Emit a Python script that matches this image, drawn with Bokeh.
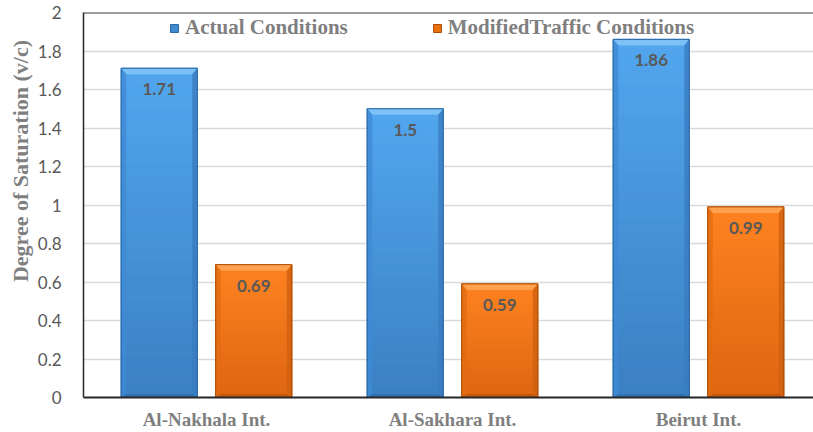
import numpy as np
from bokeh.plotting import figure
from bokeh.models import (ColumnDataSource, FixedTicker, Legend, LegendItem,
                          Span, Range1d)
from bokeh.core.properties import value
from bokeh.embed import file_html
from bokeh.resources import INLINE

# ---------------- data ----------------
categories = ["Al-Nakhala Int.", "Al-Sakhara Int.", "Beirut Int."]
actual = [1.71, 1.50, 1.86]
modified = [0.69, 0.59, 0.99]
series_names = ["Actual Conditions", "ModifiedTraffic Conditions"]
y_ticks = [0, 0.2, 0.4, 0.6, 0.8, 1.0, 1.2, 1.4, 1.6, 1.8, 2.0]
y_tick_labels = ["0", "0.2", "0.4", "0.6", "0.8", "1", "1.2", "1.4", "1.6", "1.8", "2"]
value_labels_actual = ["1.71", "1.5", "1.86"]
value_labels_modified = ["0.69", "0.59", "0.99"]
y_title = "Degree of Saturation (v/c)"

# ---------------- layout ----------------
W, H = 813, 432
LEFT, TOP, BOTTOM = 83, 12, 35
frame_w = W - LEFT
cat_px = 246.0
x_end = frame_w / cat_px

p = figure(width=W, height=H, output_backend="svg", toolbar_location=None,
           x_range=Range1d(0, x_end), y_range=Range1d(0, 2),
           min_border_left=LEFT, min_border_right=0, min_border_top=TOP,
           min_border_bottom=BOTTOM)
p.outline_line_color = None
p.background_fill_color = "white"
p.border_fill_color = "white"

# grid
p.xgrid.grid_line_color = None
p.ygrid.grid_line_color = "#d9d9d9"
p.ygrid.grid_line_width = 1.5
p.ygrid.ticker = FixedTicker(ticks=y_ticks)

# axes
p.yaxis.ticker = FixedTicker(ticks=y_ticks)
p.yaxis.major_label_overrides = {t: l for t, l in zip(y_ticks, y_tick_labels)}
p.yaxis.major_label_text_font = "Lato"
p.yaxis.major_label_text_font_size = "17px"
p.yaxis.major_label_text_color = "#595959"
p.yaxis.major_label_standoff = 16
p.yaxis.major_tick_line_color = None
p.yaxis.minor_tick_line_color = None
p.yaxis.axis_line_color = "#262626"
p.yaxis.axis_line_width = 1.5
# shift the (centred) axis title upwards using non-breaking padding at its start
p.yaxis.axis_label = "\u00a0" * 16 + y_title
p.yaxis.axis_label_text_font = "Liberation Serif"
p.yaxis.axis_label_text_font_style = "bold"
p.yaxis.axis_label_text_font_size = "22px"
p.yaxis.axis_label_text_color = "#7f7f7f"
p.yaxis.axis_label_standoff = 2

xt = [i + 0.5 for i in range(len(categories))]
p.xaxis.ticker = FixedTicker(ticks=xt)
p.xaxis.major_label_overrides = {t: c for t, c in zip(xt, categories)}
p.xaxis.major_label_text_font = "Liberation Serif"
p.xaxis.major_label_text_font_style = "bold"
p.xaxis.major_label_text_font_size = "19px"
p.xaxis.major_label_text_color = "#7f7f7f"
p.xaxis.major_label_standoff = 5
p.xaxis.major_tick_line_color = None
p.xaxis.minor_tick_line_color = None
p.xaxis.axis_line_color = "#262626"
p.xaxis.axis_line_width = 2

# top frame line
p.add_layout(Span(location=2, dimension="width", line_color="#3a3a3a", line_width=2))

# ---------------- bars ----------------
offset = 0.192
bar_w = 0.309
bx = 5.0 / cat_px          # bevel horizontal (data units)
by = 6.0 / 192.5           # bevel vertical (data units)
NB = 24


def hexc(rgb):
    return "#%02x%02x%02x" % tuple(int(round(c)) for c in rgb)


def draw_bars(vals, dx, base, top_rgb, bot_rgb, bevel_top, bevel_left,
              bevel_right, bevel_bot, edge):
    xs = np.arange(len(vals)) + 0.5 + dx
    vals = np.asarray(vals, dtype=float)
    base_r = p.quad(left=xs - bar_w / 2, right=xs + bar_w / 2, bottom=0, top=vals,
                    fill_color=base, line_color=edge, line_width=1)
    # gradient body
    L, R, B, T, C = [], [], [], [], []
    for x, v in zip(xs, vals):
        edges = np.linspace(0, v, NB + 1)
        for k in range(NB):
            t = (edges[k] + edges[k + 1]) / 2 / v
            rgb = [b + (a - b) * t for a, b in zip(top_rgb, bot_rgb)]
            L.append(x - bar_w / 2); R.append(x + bar_w / 2)
            B.append(edges[k]); T.append(edges[k + 1])
            C.append(hexc(rgb))
    p.quad(left=L, right=R, bottom=B, top=T, fill_color=C, line_color=C,
           line_width=1.2)
    # bevels
    tx, ty, lx, ly, rx, ry, bxs, bys = [], [], [], [], [], [], [], []
    for x, v in zip(xs, vals):
        x0, x1 = x - bar_w / 2, x + bar_w / 2
        tx.append([x0, x1, x1 - bx, x0 + bx]); ty.append([v, v, v - by, v - by])
        lx.append([x0, x0 + bx, x0 + bx, x0]); ly.append([v, v - by, by * 0.6, 0])
        rx.append([x1, x1 - bx, x1 - bx, x1]); ry.append([v, v - by, by * 0.6, 0])
        bxs.append([x0, x1, x1 - bx, x0 + bx]); bys.append([0, 0, by * 0.6, by * 0.6])
    p.patches(tx, ty, fill_color=bevel_top, line_color=None)
    p.patches(lx, ly, fill_color=bevel_left, line_color=None, fill_alpha=0.8)
    p.patches(rx, ry, fill_color=bevel_right, line_color=None, fill_alpha=0.8)
    p.patches(bxs, bys, fill_color=bevel_bot, line_color=None, fill_alpha=0.7)
    p.quad(left=xs - bar_w / 2, right=xs + bar_w / 2, bottom=0, top=vals,
           fill_color=None, line_color=edge, line_width=1)
    return xs, base_r


xa, ra = draw_bars(actual, -offset, "#3f8bd2", (82, 166, 238), (58, 128, 194),
                   "#7cc2f7", "#3f8ad6", "#3a7cc0", "#2f6aa6", "#2f6aa3")
xm, rm = draw_bars(modified, offset, "#e8700f", (254, 130, 32), (222, 102, 18),
                   "#ffa24f", "#e26c12", "#d0600f", "#b5530a", "#a84d0b")

# value labels
src_a = ColumnDataSource(dict(x=xa, y=actual, t=value_labels_actual))
src_m = ColumnDataSource(dict(x=xm, y=modified, t=value_labels_modified))
for s in (src_a, src_m):
    p.text(x="x", y="y", text="t", source=s, text_align="center",
           text_baseline="middle", y_offset=21, text_font=value("Lato"),
           text_font_style="bold", text_font_size="17px", text_color="#595959")

# legend
legend = Legend(items=[LegendItem(label=series_names[0], renderers=[ra]),
                       LegendItem(label=series_names[1], renderers=[rm])],
                orientation="horizontal", location=(86, 357),
                glyph_width=10, glyph_height=10, label_standoff=6, spacing=84,
                padding=0, margin=0, background_fill_alpha=0,
                border_line_color=None,
                label_text_font="Liberation Serif", label_text_font_style="bold",
                label_text_font_size="21px", label_text_color="#7f7f7f")
p.add_layout(legend)

open("out.html", "w").write(file_html(p, INLINE))
